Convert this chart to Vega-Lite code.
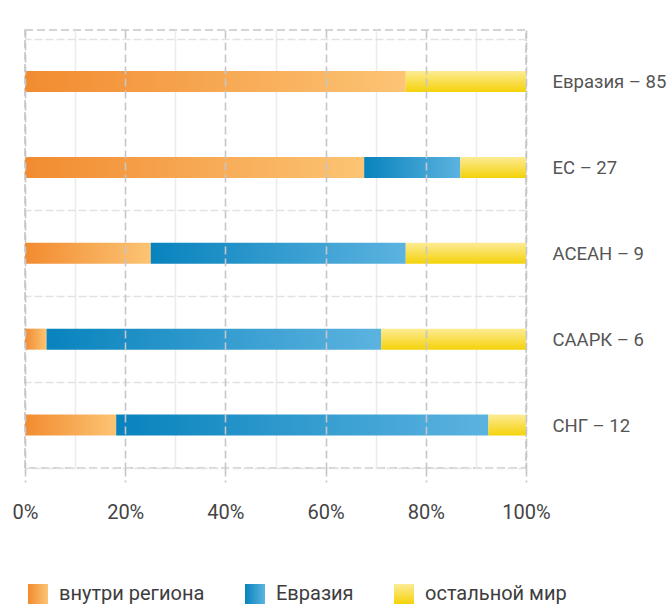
{
  "$schema": "https://vega.github.io/schema/vega-lite/v6.json",
  "width": 501,
  "height": 438,
  "autosize": {"type": "none"},
  "padding": {"left": 25, "top": 30, "right": 145, "bottom": 137},
  "config": {
    "view": {"stroke": "#c6c6ca", "strokeWidth": 1.6, "strokeDash": [8, 4]},
    "font": "Roboto"
  },
  "data": {
    "values": [
      {"region": "Евразия – 85", "dest": "внутри региона", "k": 1, "share": 76.0},
      {"region": "Евразия – 85", "dest": "остальной мир", "k": 3, "share": 24.0},
      {"region": "ЕС – 27", "dest": "внутри региона", "k": 1, "share": 67.7},
      {"region": "ЕС – 27", "dest": "Евразия", "k": 2, "share": 19.2},
      {"region": "ЕС – 27", "dest": "остальной мир", "k": 3, "share": 13.1},
      {"region": "АСЕАН – 9", "dest": "внутри региона", "k": 1, "share": 25.1},
      {"region": "АСЕАН – 9", "dest": "Евразия", "k": 2, "share": 50.9},
      {"region": "АСЕАН – 9", "dest": "остальной мир", "k": 3, "share": 24.0},
      {"region": "СААРК – 6", "dest": "внутри региона", "k": 1, "share": 4.3},
      {"region": "СААРК – 6", "dest": "Евразия", "k": 2, "share": 66.8},
      {"region": "СААРК – 6", "dest": "остальной мир", "k": 3, "share": 28.9},
      {"region": "СНГ – 12", "dest": "внутри региона", "k": 1, "share": 18.2},
      {"region": "СНГ – 12", "dest": "Евразия", "k": 2, "share": 74.3},
      {"region": "СНГ – 12", "dest": "остальной мир", "k": 3, "share": 7.5}
    ]
  },
  "encoding": {
    "y": {
      "field": "region",
      "type": "nominal",
      "sort": null,
      "scale": {"paddingInner": 0, "paddingOuter": 0.05, "align": 1},
      "axis": {
        "orient": "right",
        "title": null,
        "domain": false,
        "ticks": false,
        "grid": true,
        "tickBand": "extent",
        "gridColor": "#e2e2e2",
        "gridWidth": 1.5,
        "gridDash": [8, 3],
        "gridOpacity": {"condition": {"test": "datum.value === 'Евразия – 85'", "value": 0}, "value": 1},
        "labelPadding": 26,
        "labelFont": "Roboto",
        "labelFontSize": 18.5,
        "labelColor": "#555555"
      }
    }
  },
  "layer": [
    {
      "mark": {"type": "bar", "size": 21, "strokeWidth": 0},
      "encoding": {
        "x": {
          "field": "share",
          "type": "quantitative",
          "stack": "zero",
          "scale": {"domain": [0, 100], "nice": false},
          "axis": {
            "orient": "bottom",
            "title": null,
            "values": [0, 10, 20, 30, 40, 50, 60, 70, 80, 90, 100],
            "labelExpr": "datum.value % 20 === 0 ? datum.value + '%' : ''",
            "labelOverlap": false,
            "labelFlush": false,
            "domain": false,
            "grid": true,
            "gridColor": "#ebebeb",
            "gridWidth": 1.5,
            "gridOpacity": {"condition": {"test": "datum.value % 20 === 0", "value": 0}, "value": 1},
            "ticks": true,
            "tickSize": 14,
            "tickColor": "#c6c6ca",
            "tickWidth": 1.6,
            "tickDash": [8, 4],
            "tickOpacity": {"condition": {"test": "datum.value % 20 !== 0", "value": 0}, "value": 1},
            "labelFont": "Roboto",
            "labelFontSize": 20,
            "labelColor": "#444444",
            "labelPadding": 20
          }
        },
        "color": {
          "field": "dest",
          "type": "nominal",
          "scale": {
            "domain": ["внутри региона", "Евразия", "остальной мир"],
            "range": [
              {"expr": "{gradient: 'linear', x1: 0, y1: 0, x2: 1, y2: 0, stops: [{offset: 0, color: '#f28b30'}, {offset: 1, color: '#fcc474'}]}"},
              {"expr": "{gradient: 'linear', x1: 0, y1: 0, x2: 1, y2: 0, stops: [{offset: 0, color: '#0883bd'}, {offset: 1, color: '#5cb3e0'}]}"},
              {"expr": "{gradient: 'linear', x1: 0, y1: 0, x2: 0, y2: 1, stops: [{offset: 0, color: '#fdeb94'}, {offset: 1, color: '#f4d20a'}]}"}
            ]
          },
          "legend": {
            "orient": "none",
            "legendX": 3,
            "legendY": 554,
            "direction": "horizontal",
            "title": null,
            "symbolType": "square",
            "symbolSize": 400,
            "symbolStrokeWidth": 0,
            "labelFont": "Roboto",
            "labelFontSize": 20,
            "labelColor": "#3d3d3d",
            "labelOffset": 11,
            "columnPadding": 40,
            "padding": 0
          }
        },
        "order": {"field": "k", "type": "quantitative"}
      }
    },
    {
      "mark": {"type": "bar", "size": 21, "opacity": 0},
      "encoding": {
        "x": {
          "field": "share",
          "type": "quantitative",
          "stack": "zero",
          "scale": {"domain": [0, 100], "nice": false},
          "axis": {
            "orient": "top",
            "title": null,
            "values": [0, 20, 40, 60, 80, 100],
            "labels": false,
            "ticks": false,
            "domain": false,
            "grid": true,
            "gridColor": "#c6c6ca",
            "gridDash": [8, 4],
            "gridWidth": 1.6,
            "zindex": 1
          }
        }
      }
    }
  ],
  "resolve": {"scale": {"x": "independent"}, "axis": {"x": "independent"}}
}
